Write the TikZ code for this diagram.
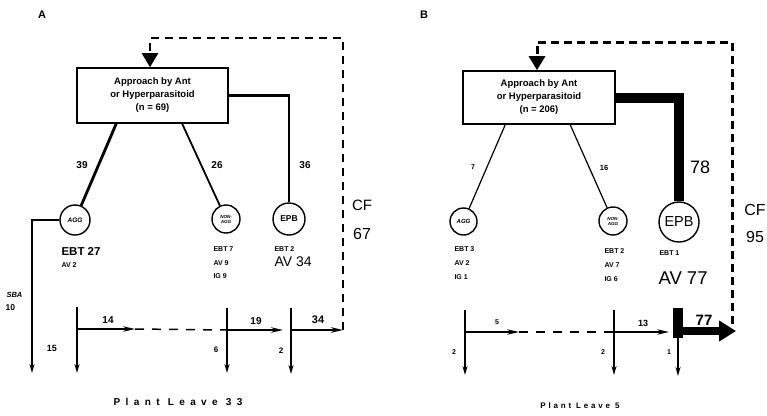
\documentclass[tikz,border=0pt]{standalone}
\usepackage{fontspec}
\setmainfont{Liberation Sans}
\newfontfamily\spacedA[LetterSpace=54]{Liberation Sans}
\newfontfamily\spacedB[LetterSpace=35]{Liberation Sans}
\usetikzlibrary{arrows.meta,positioning,calc}

\begin{document}
\begin{tikzpicture}[x=1pt,y=-1pt,
 flowbox/.style={draw,line width=1.6pt,minimum width=151pt,minimum height=55pt,align=center,inner sep=1pt,font=\bfseries\fontsize{9.5}{13}\selectfont},
 group/.style={circle,draw,line width=1.4pt,inner sep=0pt,minimum size=30pt,align=center,font=\bfseries\fontsize{8.5}{9}\selectfont},
 tinygroup/.style={group,font=\bfseries\itshape\fontsize{4.5}{5}\selectfont},
 num/.style={font=\bfseries\fontsize{10}{12}\selectfont},
 small/.style={anchor=west,font=\bfseries\fontsize{7}{9}\selectfont},
 large/.style={font=\fontsize{15}{17}\selectfont},
 exit/.style={line width=1.5pt,-{Stealth[length=9pt,width=5pt]}},
 move/.style={line width=1.5pt,-{Stealth[length=12pt,width=5.5pt]}},
 gap/.style={dash pattern=on 9pt off 8pt,line width=1.5pt},
 loopback/.style={dash pattern=on 8pt off 6pt,line width=2.4pt,-{Triangle[length=14pt,width=16pt]}}]

\useasboundingbox (0,0) rectangle (767,415);

% panel A
\node[font=\bfseries\fontsize{11}{12}\selectfont] (labA) at (42,15) {A};
\node[flowbox] (boxA) at (152.5,95.5) {Approach by Ant\\or Hyperparasitoid\\(n = 69)};
\node[group,font=\bfseries\itshape\fontsize{6.5}{7}\selectfont] (aggA) at (75,220) {AGG};
\node[tinygroup,minimum size=28pt] (nonA) at (226,219) {NON-\\AGG};
\node[group,minimum size=32pt] (epbA) at (289,219) {EPB};

\draw[line width=2.8pt] ($(boxA.south west)+(40,0)$) -- (aggA);
\draw[line width=1.8pt] ($(boxA.south west)+(106,0)$) -- (nonA);
\draw[line width=2.8pt] (boxA.east) -| (epbA);
\node[num] at (82,165) {39};
\node[num] at (217,165) {26};
\node[num] at (305,165) {36};
\node[large] at (362,205) {CF};
\node[large,font=\fontsize{16}{18}\selectfont] at (362,234) {67};

\node[small,font=\bfseries\fontsize{11.5}{13}\selectfont] at (58,251) {EBT 27};
\node[small] at (58,265) {AV 2};
\node[small] at (210,249) {EBT 7};
\node[small] at (210,263) {AV 9};
\node[small] at (210,276) {IG 9};
\node[small] at (271,249) {EBT 2};
\node[small,font=\fontsize{14}{16}\selectfont] at (271,262) {AV 34};
\node[small,font=\bfseries\itshape\fontsize{7.5}{9}\selectfont] at (3,295) {SBA};
\node[small,font=\bfseries\fontsize{8.5}{9}\selectfont] at (2,308) {10};

\coordinate (sbaA) at (32,373);
\draw[exit,line width=1.8pt] (aggA.west) -| (sbaA);

\coordinate (a1top) at (77,307);
\coordinate (a1) at (77,329);
\coordinate (a1bot) at (77,373);
\coordinate (a1end) at (135,329);
\coordinate (a2top) at (227,308);
\coordinate (a2) at (227,330);
\coordinate (a2bot) at (227,373);
\coordinate (a2end) at (283,330);
\coordinate (a3top) at (291,308);
\coordinate (a3) at (291,330);
\coordinate (a3bot) at (291,374);
\coordinate (a3end) at (343,330);
\coordinate (topA) at (150,38);

\draw[exit] (a1top) -- (a1bot);
\draw[move] (a1) -- (a1end);
\draw[gap] (a1end) -- (a2);
\draw[exit] (a2top) -- (a2bot);
\draw[move] (a2) -- (a2end);
\draw[exit,line width=2.4pt] (a3top) -- (a3bot);
\draw[move,line width=2.6pt] (a3) -- (a3end);
\draw[loopback] (a3end) |- (topA) -- (boxA.north -| topA);

\node[num] at (108,320) {14};
\node[num,font=\bfseries\fontsize{9}{10}\selectfont] at (52,348) {15};
\node[num] at (256,321) {19};
\node[num,font=\bfseries\fontsize{8}{10}\selectfont] at (216,350) {6};
\node[num,font=\bfseries\fontsize{11}{12}\selectfont] at (318,320) {34};
\node[num,font=\bfseries\fontsize{8}{10}\selectfont] at (281,351) {2};
\node[font=\spacedA\bfseries\fontsize{10}{12}\selectfont] (leafA) at (178,402) {Plant Leave 33};

% panel B
\node[font=\bfseries\fontsize{11}{12}\selectfont] (labB) at (424,15) {B};
\node[flowbox,minimum width=152pt,minimum height=53pt] (boxB) at (539,97.5) {Approach by Ant\\or Hyperparasitoid\\(n = 206)};
\node[group,minimum size=27pt,font=\bfseries\itshape\fontsize{6}{7}\selectfont] (aggB) at (463.5,221.5) {AGG};
\node[tinygroup,minimum size=28pt] (nonB) at (613,221) {NON-\\AGG};
\node[group,minimum size=40pt,font=\fontsize{14.5}{15}\selectfont] (epbB) at (679,222) {EPB};

\draw[line width=1.2pt] ($(boxB.south west)+(43,0)$) -- (aggB);
\draw[line width=1.2pt] ($(boxB.south west)+(108,0)$) -- (nonB);
\draw[line width=10pt] (boxB.east) -| (epbB);
\node[num,font=\bfseries\fontsize{7}{8}\selectfont] at (473,167) {7};
\node[num,font=\bfseries\fontsize{7.5}{8}\selectfont] at (604,168) {16};
\node[large,font=\fontsize{18}{20}\selectfont] at (700,167) {78};
\node[large,font=\fontsize{16}{18}\selectfont] at (755,210) {CF};
\node[large,font=\fontsize{16}{18}\selectfont] at (755,237) {95};

\node[small] at (451,249) {EBT 3};
\node[small] at (451,263) {AV 2};
\node[small] at (451,277) {IG 1};
\node[small] at (601,251) {EBT 2};
\node[small] at (601,265) {AV 7};
\node[small] at (601,279) {IG 6};
\node[small] at (656,253) {EBT 1};
\node[small,font=\fontsize{18.5}{20}\selectfont] at (655,278) {AV 77};

\coordinate (b1top) at (465,310);
\coordinate (b1) at (465,332);
\coordinate (b1bot) at (465,375);
\coordinate (b1end) at (519,332);
\coordinate (b2top) at (614,310);
\coordinate (b2) at (614,332);
\coordinate (b2bot) at (614,375);
\coordinate (b2end) at (669,332);
\coordinate (b3top) at (678,308);
\coordinate (b3) at (678,331);
\coordinate (b3knee) at (678,338);
\coordinate (b3bot) at (678,376);
\coordinate (b3end) at (736,331);
\coordinate (loopB) at (732,324);
\coordinate (topB) at (537,42);

\draw[exit] (b1top) -- (b1bot);
\draw[move] (b1) -- (b1end);
\draw[gap] (b1end) -- (b2);
\draw[exit] (b2top) -- (b2bot);
\draw[move] (b2) -- (b2end);
\draw[line width=10pt] (b3top) -- (b3knee);
\draw[exit] (b3knee) -- (b3bot);
\draw[line width=8pt,-{Triangle[length=17pt,width=20pt]}] (b3) -- (b3end);
\draw[loopback,line width=3pt,dash pattern=on 8pt off 5pt] (loopB) |- (topB) -- (boxB.north -| topB);

\node[num,font=\bfseries\fontsize{7}{8}\selectfont] at (497,322) {5};
\node[num,font=\bfseries\fontsize{7}{8}\selectfont] at (454,352) {2};
\node[num,font=\bfseries\fontsize{9}{10}\selectfont] at (643,323) {13};
\node[num,font=\bfseries\fontsize{7}{8}\selectfont] at (603,352) {2};
\node[num,font=\bfseries\fontsize{15}{16}\selectfont] at (704,320) {77};
\node[num,font=\bfseries\fontsize{7}{8}\selectfont] at (669,352) {1};
\node[font=\spacedB\bfseries\fontsize{8}{10}\selectfont] (leafB) at (580,406) {Plant Leave 5};
\end{tikzpicture}
\end{document}
